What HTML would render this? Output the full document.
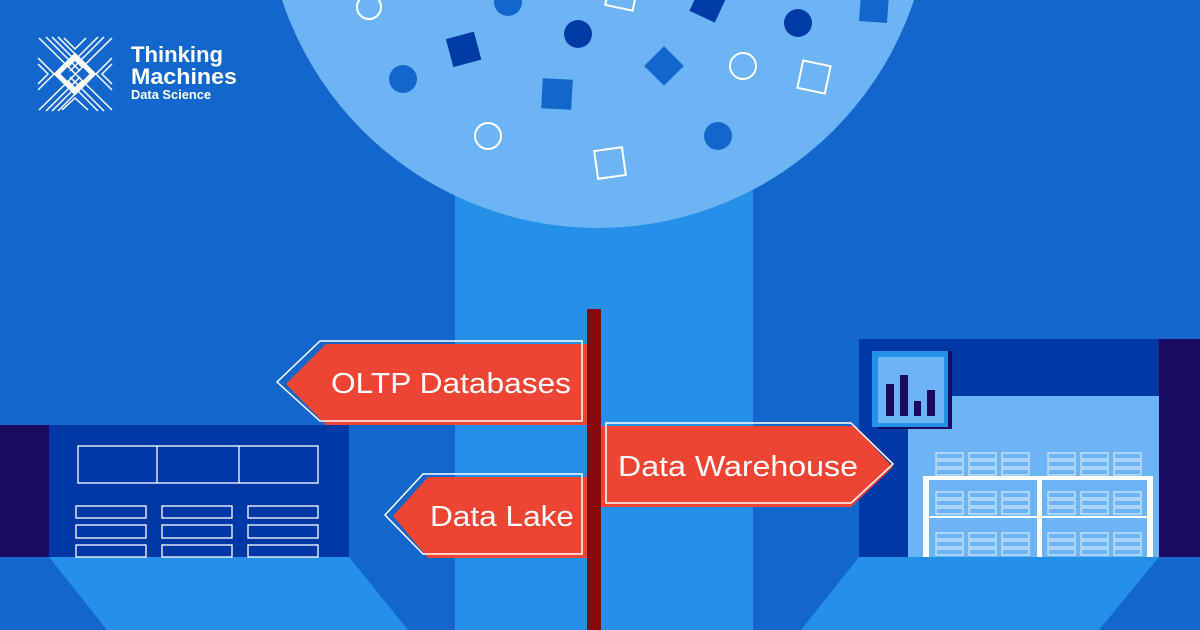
<!DOCTYPE html>
<html><head><meta charset="utf-8"><style>
html,body{margin:0;padding:0;width:1200px;height:630px;overflow:hidden;background:#1266cc}
svg{display:block}
text{font-family:"Liberation Sans",sans-serif}
</style></head><body>
<svg id="s" width="1200" height="630" viewBox="0 0 1200 630" xmlns="http://www.w3.org/2000/svg">
<rect width="1200" height="630" fill="#1266cc"/>
<rect x="455" y="0" width="298" height="630" fill="#2490e8"/>
<circle cx="598" cy="-105" r="333" fill="#6cb4f4"/>
<g stroke="#fff" stroke-width="2" fill="none">
<circle cx="369" cy="7" r="12"/>
<circle cx="743" cy="66" r="13"/>
<circle cx="488" cy="136" r="13"/>
<rect x="607" y="-12" width="28" height="20" transform="rotate(12 621 -2)"/>
<rect x="800" y="63" width="28" height="28" transform="rotate(12 814 77)"/>
<rect x="596" y="149" width="28" height="28" transform="rotate(-8 610 163)"/>
</g>
<g>
<circle cx="508" cy="2" r="14" fill="#1266cc"/>
<circle cx="578" cy="34" r="14" fill="#003ca6"/>
<circle cx="798" cy="23" r="14" fill="#003ca6"/>
<circle cx="403" cy="79" r="14" fill="#1266cc"/>
<circle cx="718" cy="136" r="14" fill="#1266cc"/>
<rect x="694" y="-10" width="28" height="28" fill="#003ca6" transform="rotate(25 708 4)"/>
<rect x="860" y="-6" width="28" height="28" fill="#1266cc" transform="rotate(4 874 8)"/>
<rect x="449" y="35" width="29" height="29" fill="#003ca6" transform="rotate(-15 463 49)"/>
<rect x="542" y="79" width="30" height="30" fill="#1266cc" transform="rotate(3 557 94)"/>
<rect x="650" y="52" width="28" height="28" fill="#1266cc" transform="rotate(45 664 66)"/>
</g>

<polygon points="49,557 349,557 408,630 107,630" fill="#2490e8"/>
<rect x="0" y="425" width="49" height="132" fill="#1a0a60"/>
<rect x="49" y="425" width="300" height="132" fill="#0039a6"/>
<g stroke="#fff" stroke-width="1.3" fill="none">
<rect x="78" y="446" width="240" height="37"/>
<line x1="157" y1="446" x2="157" y2="483"/>
<line x1="239" y1="446" x2="239" y2="483"/>
<rect x="76" y="506" width="70" height="12"/><rect x="162" y="506" width="70" height="12"/><rect x="248" y="506" width="70" height="12"/>
<rect x="76" y="525" width="70" height="13"/><rect x="162" y="525" width="70" height="13"/><rect x="248" y="525" width="70" height="13"/>
<rect x="76" y="545" width="70" height="12"/><rect x="162" y="545" width="70" height="12"/><rect x="248" y="545" width="70" height="12"/>
</g>

<polygon points="859,557 1159,557 1099,630 801,630" fill="#2490e8"/>
<rect x="1159" y="339" width="41" height="218" fill="#1a0a60"/>
<rect x="859" y="339" width="300" height="218" fill="#0039a6"/>
<rect x="908" y="396" width="251" height="161" fill="#6cb4f4"/>
<rect x="878" y="351" width="74" height="78" fill="#1a0a60"/>
<rect x="872" y="351" width="76" height="76" fill="#2490e8"/>
<rect x="878" y="357" width="66" height="66" fill="#6cb4f4"/>
<g fill="#1a0a60">
<rect x="886" y="384" width="8" height="32"/>
<rect x="900" y="375" width="8" height="41"/>
<rect x="914" y="401" width="7" height="15"/>
<rect x="927" y="390" width="8" height="26"/>
</g>
<g id="shelves" stroke="#e8f3ff" stroke-width="1" fill="none"></g>
<g fill="#fff">
<rect x="923" y="476" width="230" height="4"/>
<rect x="923" y="476" width="6" height="81"/>
<rect x="1147" y="476" width="6" height="81"/>
<rect x="1037" y="476" width="5" height="81"/>
<rect x="923" y="516" width="230" height="2"/>
</g>

<rect x="587" y="309" width="14" height="321" fill="#870a0a"/>

<polygon points="286,384 326,344 587,344 587,425 326,425" fill="#ee4433"/>
<polygon points="277,382 320,341 582,341 582,421 320,421" fill="none" stroke="#fff" stroke-width="1.5"/>
<text x="331" y="393" font-size="29" fill="#fff" textLength="240" lengthAdjust="spacingAndGlyphs">OLTP Databases</text>

<polygon points="393,516 428,477 587,477 587,558 428,558" fill="#ee4433"/>
<polygon points="385,515 423,474 582,474 582,554 423,554" fill="none" stroke="#fff" stroke-width="1.5"/>
<text x="430" y="526" font-size="29" fill="#fff" textLength="144" lengthAdjust="spacingAndGlyphs">Data Lake</text>

<polygon points="601,426 854,426 893,467 851,507 601,507" fill="#ee4433"/>
<polygon points="606,423 851,423 893,464 851,503 606,503" fill="none" stroke="#fff" stroke-width="1.5"/>
<text x="618" y="476" font-size="29" fill="#fff" textLength="240" lengthAdjust="spacingAndGlyphs">Data Warehouse</text>

<g stroke="#fff" stroke-width="1.5" fill="none">
<line x1="39" y1="38" x2="112" y2="110"/>
<line x1="39" y1="110" x2="112" y2="38"/>
<line x1="46" y1="37" x2="80" y2="71"/><line x1="52" y1="37" x2="82" y2="67"/><line x1="58" y1="37" x2="84" y2="63"/>
<line x1="104" y1="37" x2="70" y2="71"/><line x1="98" y1="37" x2="68" y2="67"/>
<line x1="46" y1="111" x2="80" y2="77"/><line x1="52" y1="111" x2="82" y2="81"/><line x1="58" y1="111" x2="84" y2="85"/>
<line x1="104" y1="111" x2="70" y2="77"/><line x1="98" y1="111" x2="68" y2="81"/>
<polyline points="38,58 54,74 38,90"/><polyline points="38,64 48,74 38,84"/>
<polyline points="112,58 96,74 112,90"/><polyline points="112,64 102,74 112,84"/>
<polyline points="62,110 75,98 88,110"/><polyline points="64,38 75,49 86,38"/>
</g>
<polygon points="75,56 93,74 75,92 57,74" fill="none" stroke="#fff" stroke-width="5"/>
<text x="131" y="62" font-size="22" font-weight="bold" fill="#fff" textLength="92" lengthAdjust="spacingAndGlyphs">Thinking</text>
<text x="131" y="84" font-size="22" font-weight="bold" fill="#fff" textLength="106" lengthAdjust="spacingAndGlyphs">Machines</text>
<text x="131" y="99" font-size="12.5" font-weight="bold" fill="#fff" textLength="80" lengthAdjust="spacingAndGlyphs">Data Science</text>
</svg>
<script>
var g=document.getElementById('shelves'),h='';
var xs=[936,969,1002,1048,1081,1114],ys=[453,492,533];
ys.forEach(function(y){for(var r=0;r<3;r++)xs.forEach(function(x){h+='<rect x="'+x+'" y="'+(y+r*8)+'" width="27" height="6"/>';});});
g.innerHTML=h;
</script>
</body></html>
